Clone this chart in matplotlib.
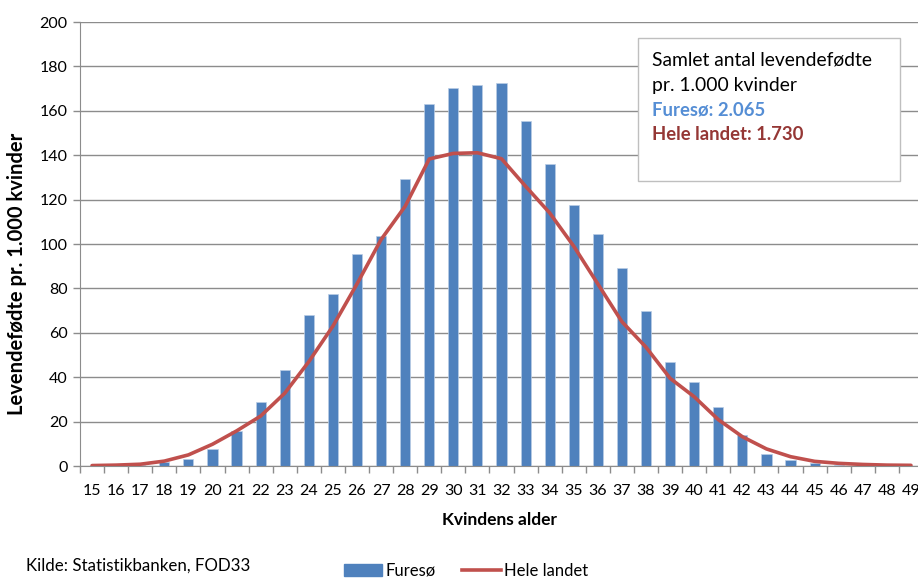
import matplotlib
matplotlib.use("Agg")
import matplotlib.pyplot as plt
from matplotlib.patches import Patch
from matplotlib.lines import Line2D

ages = list(range(15, 50))
furesoe = [0, 0, 0.3, 1.6, 3.3, 7.8, 15.6, 29, 43.2, 68, 77.5, 95.5, 103.5, 129.5,
           163.2, 170.4, 171.6, 172.7, 155.5, 135.9, 117.5, 104.5, 89, 70, 46.8, 37.7,
           26.4, 14, 5.6, 2.7, 1.5, 0.6, 0.3, 0.2, 0.1]
hele_landet = [0.2, 0.4, 0.8, 2.2, 5.0, 9.8, 15.8, 22.5, 32.8, 47, 63, 82, 102, 117,
               138.3, 140.8, 141.1, 138.4, 126, 114, 99, 82, 65, 53.5, 39.5, 31.2,
               20.9, 13.2, 7.7, 4.2, 2.1, 1.2, 0.7, 0.4, 0.3]
yticks = list(range(0, 201, 20))

plt.rcParams['font.family'] = ['Lato', 'DejaVu Sans']
bar_color = '#4F81BD'
line_color = '#C0504D'

fig = plt.figure(figsize=(9.18, 5.79), dpi=100)
W, H = 918, 579
left, right, top, bottom = 80, 923, 22, 466
ax = fig.add_axes([left / W, 1 - bottom / H, (right - left) / W, (bottom - top) / H])

x = list(range(len(ages)))
ax.bar(x, furesoe, width=0.42, color=bar_color, edgecolor='#B9CDE5', linewidth=0.5, zorder=2)
ax.plot(x, hele_landet, color=line_color, linewidth=2.6, zorder=3, solid_capstyle='round')

ax.set_xlim(-0.5, len(ages) - 0.5)
ax.set_ylim(0, 200)
ax.set_yticks(yticks)
ax.set_yticklabels([str(v) for v in yticks], fontsize=11.5)
ax.yaxis.grid(True, color='#8C8C8C', linewidth=1.0, zorder=0)
ax.set_axisbelow(True)

ax.set_xticks(x)
ax.set_xticklabels([str(a) for a in ages], fontsize=11.5)
ax.tick_params(axis='x', length=0, pad=13)
ax.set_xticks([i - 0.5 for i in range(len(ages) + 1)], minor=True)
ax.tick_params(axis='x', which='minor', length=5, color='#8C8C8C', width=1)
ax.tick_params(axis='y', length=5, color='#8C8C8C', width=1, pad=4)

for s in ['top', 'right']:
    ax.spines[s].set_visible(False)
ax.spines['left'].set_color('#8C8C8C')
ax.spines['bottom'].set_color('#8C8C8C')

fig.text(17 / W, 1 - 274 / H, 'Levendefødte pr. 1.000 kvinder', rotation=90,
         ha='center', va='center', fontsize=14.5, fontweight='bold')
fig.text(500 / W, 1 - 520 / H, 'Kvindens alder', ha='center', va='center',
         fontsize=12.5, fontweight='bold')

# Info box
box_l, box_t, box_r, box_b = 638, 38, 900, 181
fig.patches.append(plt.Rectangle((box_l / W, 1 - box_b / H), (box_r - box_l) / W,
                                 (box_b - box_t) / H, transform=fig.transFigure,
                                 facecolor='white', edgecolor='#BFBFBF', linewidth=1,
                                 zorder=5))
tx = 652 / W
fig.text(tx, 1 - 60 / H, 'Samlet antal levendefødte', fontsize=13.9, va='center', zorder=6)
fig.text(tx, 1 - 85 / H, 'pr. 1.000 kvinder', fontsize=13.9, va='center', zorder=6)
fig.text(tx, 1 - 110 / H, 'Furesø: 2.065', fontsize=13.3, va='center', fontweight='bold',
         color='#558ED5', zorder=6)
fig.text(tx, 1 - 134 / H, 'Hele landet: 1.730', fontsize=13.3, va='center', fontweight='bold',
         color='#953735', zorder=6)

fig.text(26 / W, 1 - 566 / H, 'Kilde: Statistikbanken, FOD33', fontsize=12.2, va='center')

handles = [Patch(facecolor=bar_color, edgecolor=bar_color),
           Line2D([0], [0], color=line_color, linewidth=2.6)]
fig.legend(handles, ['Furesø', 'Hele landet'], loc='center', bbox_to_anchor=(466 / W, 1 - 571 / H),
           ncol=2, frameon=False, fontsize=12, handlelength=2.3, handleheight=0.7,
           handletextpad=0.2, columnspacing=1.6, borderpad=0)

fig.savefig('out.png', dpi=100)
